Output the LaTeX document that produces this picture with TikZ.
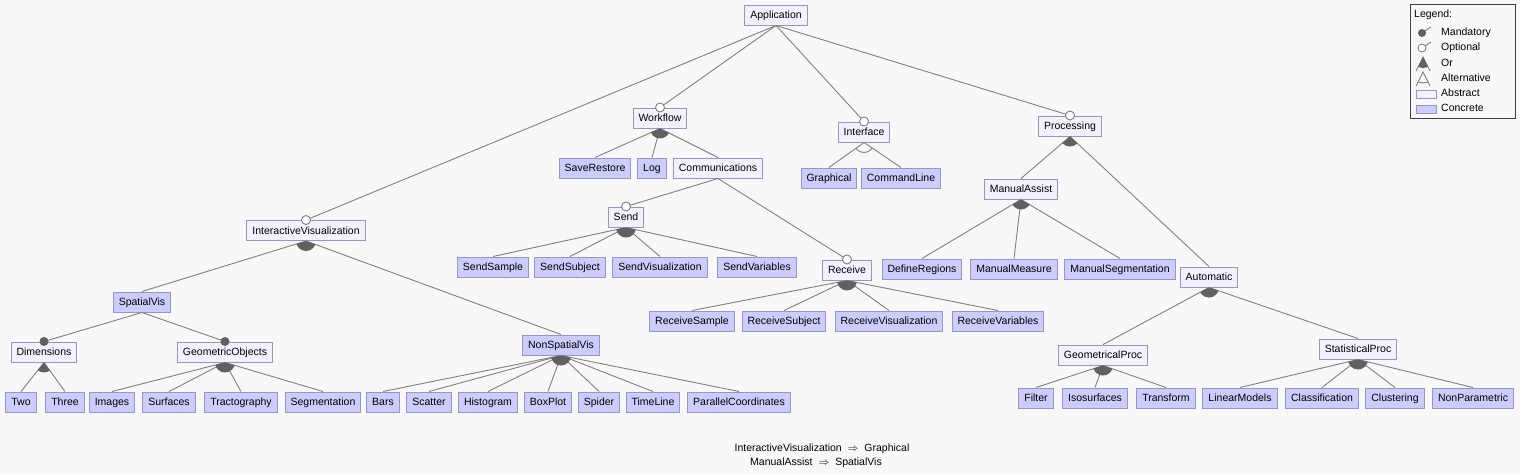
\documentclass[tikz,border=0pt]{standalone}
\usepackage{fontspec}
\setmainfont{Liberation Sans}
\usetikzlibrary{calc}

\definecolor{bgcol}{RGB}{248,248,248}
\definecolor{concretefill}{RGB}{204,204,255}
\definecolor{abstractfill}{RGB}{242,242,255}
\definecolor{boxline}{RGB}{150,150,195}
\definecolor{edgecol}{RGB}{128,128,128}
\definecolor{markcol}{RGB}{96,96,96}

\tikzset{
  feature/.style={draw=boxline, line width=1pt, font=\fontsize{10.5}{12}\selectfont,
    inner xsep=5.5pt, inner ysep=0pt, minimum height=20pt, text height=8pt, text depth=1pt},
  abstract/.style={feature, fill=abstractfill},
  concrete/.style={feature, fill=concretefill},
  edge/.style={draw=edgecol, line width=0.9pt},
  legendtext/.style={anchor=west, inner sep=0pt, font=\fontsize{10.5}{12}\selectfont},
}

% optional / mandatory markers on top of a child
\newcommand{\optfeat}[1]{\filldraw[draw=edgecol, fill=white, line width=0.9pt] (#1.north) circle (4.5pt);}
\newcommand{\mandfeat}[1]{\fill[markcol] (#1.north) circle (4.5pt);}
% or / alternative groups below a parent, from first to last child
\newcommand{\orgroup}[3]{%
  \begin{scope}
    \clip (#1.south) -- ($(#1.south)!150pt!(#2.north)$) -- ($(#1.south)!150pt!(#3.north)$) -- cycle;
    \fill[markcol] (#1.south) circle (10pt);
  \end{scope}}
\newcommand{\altgroup}[3]{%
  \begin{scope}
    \clip (#1.south) -- ($(#1.south)!150pt!(#2.north)$) -- ($(#1.south)!150pt!(#3.north)$) -- cycle;
    \draw[edgecol, line width=0.9pt] (#1.south) circle (10pt);
  \end{scope}}

\begin{document}
\begin{tikzpicture}[x=1pt, y=-1pt]

  \fill[bgcol] (0,0) rectangle (1520,474);
  \useasboundingbox (0,0) rectangle (1520,474);

  % Define nodes
  \node[abstract] (app) at (776,15) {Application};

  \node[abstract] (wf) at (660,118) {Workflow};
  \node[concrete] (saveres) at (595,168) {SaveRestore};
  \node[concrete] (log) at (652,168) {Log};
  \node[abstract] (comm) at (718,168) {Communications};
  \node[abstract] (send) at (626,217) {Send};
  \node[concrete] (sendsmp) at (493,267) {SendSample};
  \node[concrete] (sendsubj) at (570,267) {SendSubject};
  \node[concrete] (sendvis) at (660,267) {SendVisualization};
  \node[concrete] (sendvar) at (757,267) {SendVariables};
  \node[abstract] (recv) at (847,270) {Receive};
  \node[concrete] (recvsmp) at (692,321) {ReceiveSample};
  \node[concrete] (recvsubj) at (784,321) {ReceiveSubject};
  \node[concrete] (recvvis) at (889,321) {ReceiveVisualization};
  \node[concrete] (recvvar) at (998,321) {ReceiveVariables};

  \node[abstract] (intf) at (864,132) {Interface};
  \node[concrete] (graph) at (829,178) {Graphical};
  \node[concrete] (cmdl) at (901,178) {CommandLine};

  \node[abstract] (proc) at (1070,126) {Processing};
  \node[abstract] (manual) at (1021,189) {ManualAssist};
  \node[concrete] (defreg) at (922,269) {DefineRegions};
  \node[concrete] (manmeas) at (1014,269) {ManualMeasure};
  \node[concrete] (manseg) at (1120,269) {ManualSegmentation};
  \node[abstract] (auto) at (1209,277) {Automatic};
  \node[abstract] (geomproc) at (1103,355) {GeometricalProc};
  \node[abstract] (statproc) at (1358,349) {StatisticalProc};
  \node[concrete] (filter) at (1036,398) {Filter};
  \node[concrete] (iso) at (1095,398) {Isosurfaces};
  \node[concrete] (transf) at (1166,398) {Transform};
  \node[concrete] (linmod) at (1240,398) {LinearModels};
  \node[concrete] (classif) at (1322,398) {Classification};
  \node[concrete] (clust) at (1395,398) {Clustering};
  \node[concrete] (nonpar) at (1473,398) {NonParametric};

  \node[abstract] (iv) at (306,230.5) {InteractiveVisualization};
  \node[concrete] (spatial) at (142,302) {SpatialVis};
  \node[abstract] (dims) at (44,352) {Dimensions};
  \node[abstract] (geomobj) at (225,352) {GeometricObjects};
  \node[concrete] (two) at (21,402) {Two};
  \node[concrete] (three) at (65,402) {Three};
  \node[concrete] (images) at (112,402) {Images};
  \node[concrete] (surf) at (169,402) {Surfaces};
  \node[concrete] (tracto) at (241,402) {Tractography};
  \node[concrete] (segm) at (323,402) {Segmentation};
  \node[concrete] (nonspatial) at (561,345) {NonSpatialVis};
  \node[concrete] (bars) at (383,402) {Bars};
  \node[concrete] (scatter) at (429,402) {Scatter};
  \node[concrete] (histo) at (488,402) {Histogram};
  \node[concrete] (boxplot) at (548,402) {BoxPlot};
  \node[concrete] (spider) at (599,402) {Spider};
  \node[concrete] (timeline) at (653,402) {TimeLine};
  \node[concrete] (parcoord) at (739,402) {ParallelCoordinates};

  % Connect the nodes
  \foreach \c in {iv, wf, intf, proc} \draw[edge] (app.south) -- (\c.north);
  \foreach \c in {saveres, log, comm} \draw[edge] (wf.south) -- (\c.north);
  \foreach \c in {send, recv} \draw[edge] (comm.south) -- (\c.north);
  \foreach \c in {sendsmp, sendsubj, sendvis, sendvar} \draw[edge] (send.south) -- (\c.north);
  \foreach \c in {recvsmp, recvsubj, recvvis, recvvar} \draw[edge] (recv.south) -- (\c.north);
  \foreach \c in {graph, cmdl} \draw[edge] (intf.south) -- (\c.north);
  \foreach \c in {manual, auto} \draw[edge] (proc.south) -- (\c.north);
  \foreach \c in {defreg, manmeas, manseg} \draw[edge] (manual.south) -- (\c.north);
  \foreach \c in {geomproc, statproc} \draw[edge] (auto.south) -- (\c.north);
  \foreach \c in {filter, iso, transf} \draw[edge] (geomproc.south) -- (\c.north);
  \foreach \c in {linmod, classif, clust, nonpar} \draw[edge] (statproc.south) -- (\c.north);
  \foreach \c in {spatial, nonspatial} \draw[edge] (iv.south) -- (\c.north);
  \foreach \c in {dims, geomobj} \draw[edge] (spatial.south) -- (\c.north);
  \foreach \c in {two, three} \draw[edge] (dims.south) -- (\c.north);
  \foreach \c in {images, surf, tracto, segm} \draw[edge] (geomobj.south) -- (\c.north);
  \foreach \c in {bars, scatter, histo, boxplot, spider, timeline, parcoord} \draw[edge] (nonspatial.south) -- (\c.north);

  % Groups and markers
  \orgroup{wf}{saveres}{comm}
  \orgroup{send}{sendsmp}{sendvar}
  \orgroup{recv}{recvsmp}{recvvar}
  \altgroup{intf}{graph}{cmdl}
  \orgroup{proc}{manual}{auto}
  \orgroup{manual}{defreg}{manseg}
  \orgroup{auto}{geomproc}{statproc}
  \orgroup{geomproc}{filter}{transf}
  \orgroup{statproc}{linmod}{nonpar}
  \orgroup{iv}{spatial}{nonspatial}
  \orgroup{dims}{two}{three}
  \orgroup{geomobj}{images}{segm}
  \orgroup{nonspatial}{bars}{parcoord}
  \foreach \c in {iv, wf, intf, proc, send, recv} {\optfeat{\c}}
  \foreach \c in {dims, geomobj} {\mandfeat{\c}}

  % Legend
  \draw[black!75, line width=1pt] (1410,4) rectangle (1515,118);
  \node[legendtext] (lgtitle) at (1414,15) {Legend:};
  \node[legendtext] (lgmand) at (1441,33) {Mandatory};
  \node[legendtext] (lgopt) at (1441,48) {Optional};
  \node[legendtext] (lgor) at (1441,63) {Or};
  \node[legendtext] (lgalt) at (1441,78) {Alternative};
  \node[legendtext] (lgabs) at (1441,93) {Abstract};
  \node[legendtext] (lgcon) at (1441,108) {Concrete};
  \draw[edge] (1431,27) -- (1422,33);
  \fill[markcol] (1422,33) circle (4pt);
  \draw[edge] (1431,42) -- (1422,48);
  \filldraw[draw=edgecol, fill=white, line width=0.9pt] (1422,48) circle (4pt);
  \draw[edge] (1416,71) -- (1423,57) -- (1430,71);
  \begin{scope}
    \clip (1423,57) -- (1409,85) -- (1437,85) -- cycle;
    \fill[markcol] (1423,57) circle (11pt);
  \end{scope}
  \draw[edge] (1416,86) -- (1423,72) -- (1430,86);
  \begin{scope}
    \clip (1423,72) -- (1409,100) -- (1437,100) -- cycle;
    \draw[edgecol, line width=0.9pt] (1423,72) circle (11pt);
  \end{scope}
  \filldraw[draw=boxline, fill=abstractfill, line width=1pt] (1416,90) rectangle (1436,98);
  \filldraw[draw=boxline, fill=concretefill, line width=1pt] (1416,105) rectangle (1436,113);

  % Constraints
  \node[font=\fontsize{10.5}{12}\selectfont, inner sep=0pt] (cons1) at (822,449) {InteractiveVisualization~~\ensuremath{\Rightarrow}~~Graphical};
  \node[font=\fontsize{10.5}{12}\selectfont, inner sep=0pt] (cons2) at (816,463) {ManualAssist~~\ensuremath{\Rightarrow}~~SpatialVis};

\end{tikzpicture}
\end{document}
